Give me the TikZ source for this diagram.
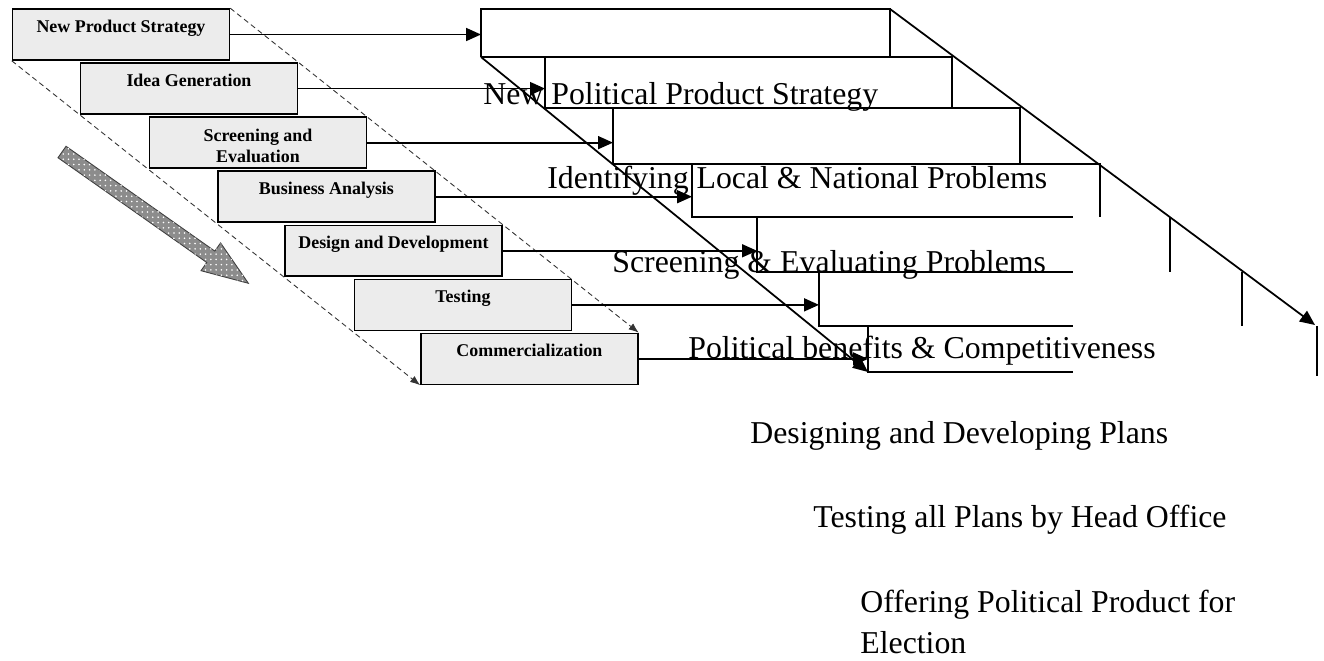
\documentclass[tikz,border=0pt]{standalone}
\usepackage{fontspec}
\setmainfont{Liberation Serif}
\usetikzlibrary{arrows.meta, positioning, patterns}

\begin{document}
\begin{tikzpicture}[x=0.02cm, y=-0.02cm,
  stage/.style={rectangle, draw=black, line width=0.9pt, fill=gray!15, minimum width=4.34cm, minimum height=1.02cm, inner xsep=2pt, inner ysep=0.06cm, text height=0.4cm, text depth=0.5cm, align=center, font=\fontsize{10.2}{12}\selectfont\bfseries},
  polit/.style={anchor=base west, inner sep=0pt, align=left, font=\fontsize{18.1}{23.2}\selectfont},
  frame/.style={line width=0.8pt},
  arr/.style={-{Triangle[length=0.3cm, width=0.26cm]}, line width=1pt},
  guide/.style={densely dashed, line width=0.5pt, draw=black!80, -{Latex[length=0.2cm, width=0.15cm]}},
  bigarrow/.style={draw=gray!50!black, line width=0.5pt, fill=gray!90, postaction={pattern=dots, pattern color=white}}
]
\useasboundingbox (0,0) rectangle (1324,660);

% left: stages of new product development
\node[stage] (strategy) at (121,34.5) {New Product Strategy};
\node[stage, below=0.03cm of strategy, xshift=1.36cm] (idea) {Idea Generation};
\node[stage, below=0.03cm of idea, xshift=1.38cm, text height=0.84cm, text depth=0.06cm] (screening) {Screening and\\Evaluation};
\node[stage, below=0.03cm of screening, xshift=1.37cm] (business) {Business Analysis};
\node[stage, below=0.03cm of business, xshift=1.34cm] (design) {Design and Development};
\node[stage, below=0.03cm of design, xshift=1.39cm] (testing) {Testing};
\node[stage, below=0.03cm of testing, xshift=1.33cm] (commerce) {Commercialization};

\draw[guide] (strategy.north east) -- (commerce.north east);
\draw[guide] (strategy.south west) -- (commerce.south west);

\begin{scope}[shift={(62,152)}, rotate=-35.16]
  \draw[bigarrow] (0,-7) -- (182,-7) -- (182,-17) -- (228,0) -- (182,17) -- (182,7) -- (0,7) -- cycle;
\end{scope}

% right: political product staircase
\coordinate (row1) at (481,9);
\coordinate (row2) at (545,57);
\coordinate (row3) at (613,108);
\coordinate (row4) at (692,164);
\coordinate (row5) at (757,217);
\coordinate (row6) at (819,272);
\coordinate (row7) at (868,326);
\coordinate (low) at (868,372);
\coordinate (top) at (890,9);
\coordinate (tip) at (1315,325);

\draw[frame] (481,57) -- (row1) -- (top) -- (890,57);
\draw[frame] (481,57) -- (952,57) -- (952,108);
\draw[frame] (row2) -- (545,108) -- (1020,108) -- (1020,164);
\draw[frame] (row3) -- (613,164) -- (1100,164) -- (1100,217);
\draw[frame] (row4) -- (692,217) -- (1073,217);
\draw[frame] (row5) -- (757,272) -- (1073,272);
\draw[frame] (row6) -- (819,326) -- (1073,326);
\draw[frame] (row7) -- (low) -- (1073,372);
\draw[frame] (1170,217) -- (1170,272);
\draw[frame] (1242,272) -- (1242,326);
\draw[frame] (1317,326) -- (1317,376);

\draw[arr] (481,57) -- (low);
\draw[arr] (top) -- (tip);

\draw[arr] (strategy.east) -- (strategy.east -| row1);
\draw[arr] (idea.east) -- (idea.east -| row2);
\draw[arr] (screening.east) -- (screening.east -| row3);
\draw[arr] (business.east) -- (business.east -| row4);
\draw[arr] (design.east) -- (design.east -| row5);
\draw[arr] (testing.east) -- (testing.east -| row6);
\draw[arr] (commerce.east) -- (commerce.east -| row7);

\node[polit] (newstrat) at (483,104) {New Political Product Strategy};
\node[polit] (problems) at (547,188) {Identifying Local \& National Problems};
\node[polit] (evaluate) at (612,272) {Screening \& Evaluating Problems};
\node[polit] (benefits) at (688,358) {Political benefits \& Competitiveness};
\node[polit] (plans) at (750,443) {Designing and Developing Plans};
\node[polit] (headoffice) at (813,527) {Testing all Plans by Head Office};
\node[polit] (offering) at (860,653) {Offering Political Product for\\Election};
\end{tikzpicture}
\end{document}
